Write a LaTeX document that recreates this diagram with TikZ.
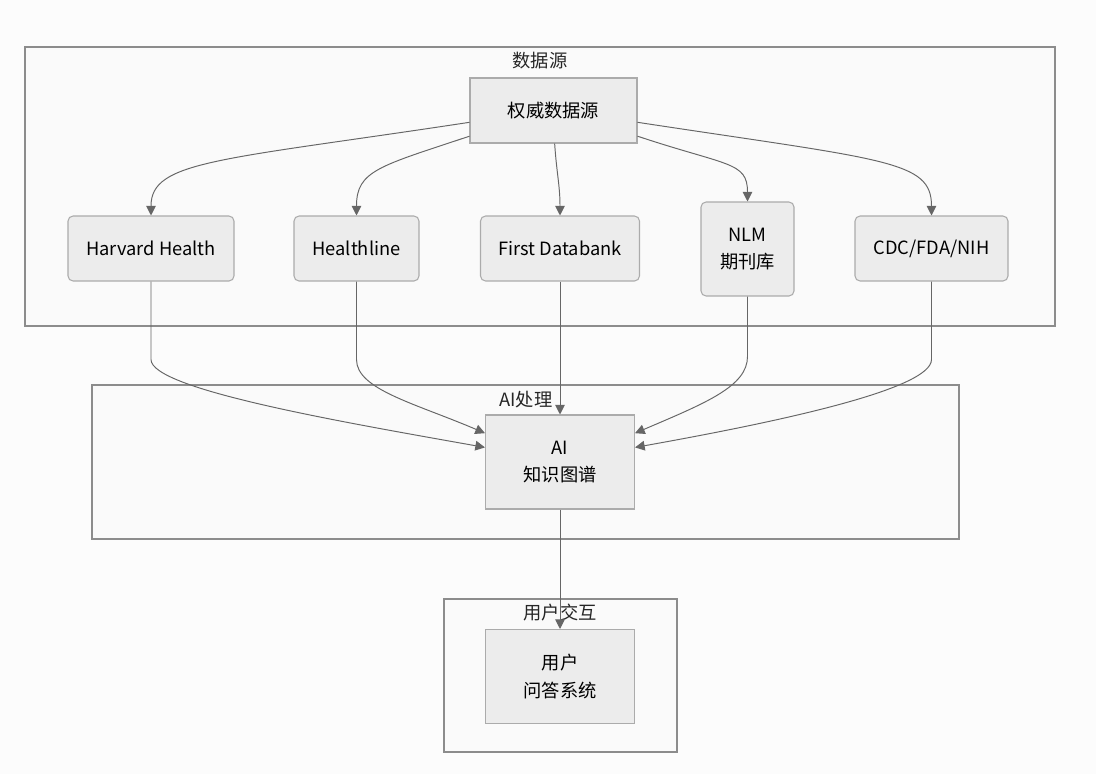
\documentclass[tikz,border=0pt]{standalone}
\usepackage{fontspec}
\setmainfont{Noto Sans CJK SC}
\usetikzlibrary{arrows.meta}
\definecolor{boxfill}{HTML}{ECECEC}
\definecolor{boxline}{HTML}{ABABAB}
\definecolor{grpline}{HTML}{8C8C8C}
\definecolor{edgecol}{HTML}{666666}
\tikzset{
  grp/.style={draw=grpline,fill=white!98!black,line width=0.6pt},
  grplabel/.style={inner sep=0pt,text=black!85},
  box/.style={draw=boxline,fill=boxfill,line width=0.6pt,align=center,inner sep=0pt},
  rbox/.style={box,rounded corners=0.1cm},
  arr/.style={draw=edgecol,line width=0.55pt,-{Triangle[length=5.5pt,width=5.5pt]}}
}
\begin{document}
\begin{tikzpicture}[x=0.02cm,y=-0.02cm,every node/.style={font=\fontsize{10.4}{15.6}\selectfont}]
        \fill[white!99!black] (0,0) rectangle (1096,774);
        \useasboundingbox (0,0) rectangle (1096,774);
        % subgraphs
        \draw[grp] (25,47) rectangle (1055,326);
        \draw[grp] (92,385) rectangle (959,539);
        \draw[grp] (444,599) rectangle (677,752);
        \node[grplabel] (lsrc) at (540,61) {数据源};
        \node[grplabel] (lai) at (526,400) {AI处理};
        \node[grplabel] (lusr) at (560,613) {用户交互};
        % nodes
        \node[box,minimum width=3.34cm,minimum height=1.3cm] (src) at (553.5,110.5) {权威数据源};
        \node[rbox,minimum width=3.32cm,minimum height=1.3cm] (hh) at (151,248.5) {Harvard Health};
        \node[rbox,minimum width=2.5cm,minimum height=1.3cm] (hl) at (356.5,248.5) {Healthline};
        \node[rbox,minimum width=3.18cm,minimum height=1.3cm] (fdb) at (560,248.5) {First Databank};
        \node[rbox,minimum width=1.86cm,minimum height=1.88cm] (nlm) at (747.5,249) {NLM\\期刊库};
        \node[rbox,minimum width=3.06cm,minimum height=1.3cm] (cdc) at (931.5,248.5) {CDC/FDA/NIH};
        \node[box,minimum width=2.98cm,minimum height=1.88cm] (ai) at (560,462) {AI\\知识图谱};
        \node[box,minimum width=2.98cm,minimum height=1.88cm] (usr) at (560,676.5) {用户\\问答系统};
        % edges
        \draw[arr] (src.188) .. controls +(-250,38) and +(0,-55) .. (hh.north);
        \draw[arr] (src.197) .. controls +(-90,30) and +(0,-45) .. (hl.north);
        \draw[arr] (src.-88) .. controls +(2,30) and +(0,-30) .. (fdb.north);
        \draw[arr] (src.-17) .. controls +(90,30) and +(0,-40) .. (nlm.north);
        \draw[arr] (src.-8) .. controls +(250,38) and +(0,-55) .. (cdc.north);
        \draw[arr] (hh.south) -- ++(0,78) .. controls +(0,30) and +(-140,-25) .. (ai.169);
        \draw[arr] (hl.south) -- ++(0,78) .. controls +(0,30) and +(-70,-30) .. (ai.159);
        \draw[arr] (fdb.south) -- (ai.north);
        \draw[arr] (nlm.south) -- ++(0,60) .. controls +(0,30) and +(70,-30) .. (ai.21);
        \draw[arr] (cdc.south) -- ++(0,78) .. controls +(0,30) and +(140,-25) .. (ai.11);
        \draw[arr] (ai.south) -- (usr.north);
\end{tikzpicture}
\end{document}
